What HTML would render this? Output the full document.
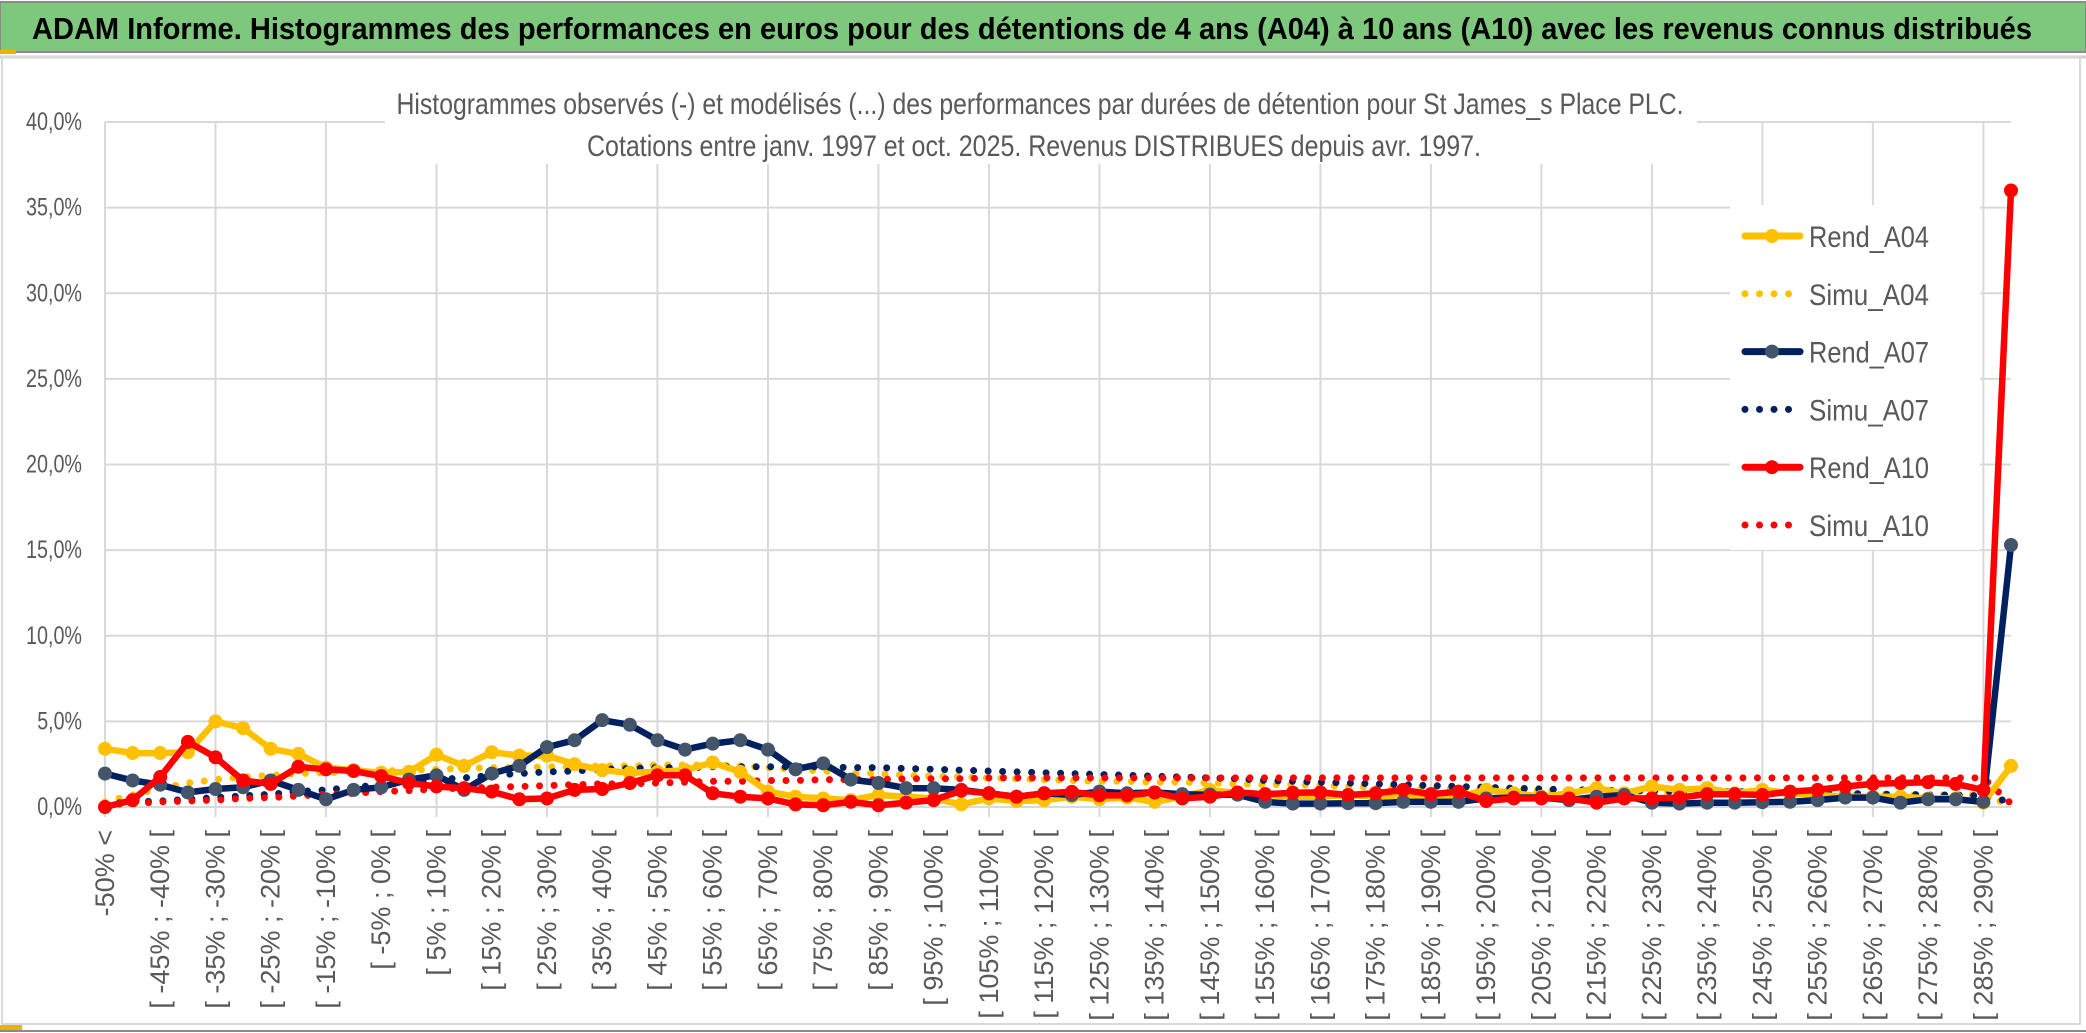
<!DOCTYPE html>
<html><head><meta charset="utf-8"><style>
html,body{margin:0;padding:0;background:#fff;}
svg{display:block;font-family:"Liberation Sans",sans-serif;}
</style></head><body>
<svg id="chart" width="2086" height="1033" viewBox="0 0 2086 1033" xmlns="http://www.w3.org/2000/svg">
<rect x="0" y="0" width="2086" height="1033" fill="#fff"/>
<rect x="0" y="2" width="2086" height="50" fill="#7ec87e" stroke="#8a8a8a" stroke-width="2"/>
<rect x="0" y="50" width="16" height="4" fill="#f0b000"/>
<text x="32" y="39" font-size="31" font-weight="bold" fill="#000" textLength="2000" lengthAdjust="spacingAndGlyphs">ADAM Informe. Histogrammes des performances en euros pour des détentions de 4 ans (A04) à 10 ans (A10) avec les revenus connus distribués</text>
<line x1="0" y1="57" x2="2086" y2="57" stroke="#d0d0d0" stroke-width="3"/>
<rect x="2" y="57" width="2078" height="967" fill="none" stroke="#d9d9d9" stroke-width="2"/>
<line x1="0" y1="1031" x2="2086" y2="1031" stroke="#8a8a8a" stroke-width="2"/>
<rect x="0" y="1025" width="22" height="5" fill="#f0b000"/>
<g id="grid"></g>
<rect x="385" y="84" width="1312" height="80" fill="#fff"/>
<text x="1040" y="114" font-size="30" fill="#595959" text-anchor="middle" textLength="1287" lengthAdjust="spacingAndGlyphs">Histogrammes observés (-) et modélisés (...) des performances par durées de détention pour St James_s Place PLC.</text>
<text x="1034" y="156" font-size="30" fill="#595959" text-anchor="middle" textLength="894" lengthAdjust="spacingAndGlyphs">Cotations entre janv. 1997 et oct. 2025. Revenus DISTRIBUES depuis avr. 1997.</text>
<g id="yaxis"></g>
<g id="xaxis"></g>
<g id="series"></g>
<g id="legend"></g>
</svg>
<script>
const categories = [];
categories.push('-50% <');
for (let k = -50; k < 290; k += 5) categories.push('[ ' + k + '% ; ' + (k + 5) + '% [');
categories.push('> 290%');

const yTicks = [0, 5, 10, 15, 20, 25, 30, 35, 40];
const yTickLabels = ['0,0%', '5,0%', '10,0%', '15,0%', '20,0%', '25,0%', '30,0%', '35,0%', '40,0%'];

const rendA04 = [3.4,3.15,3.15,3.2,5.0,4.6,3.4,3.1,2.3,2.15,2.0,2.05,3.05,2.4,3.2,3.0,3.0,2.5,2.15,2.0,2.05,2.15,2.6,2.05,0.9,0.6,0.5,0.4,0.7,0.6,0.5,0.15,0.5,0.35,0.4,0.6,0.45,0.55,0.3,0.6,1.0,0.8,0.7,0.6,0.6,0.7,0.6,0.7,0.6,0.6,1.0,0.8,0.6,0.8,1.1,0.8,1.2,1.0,1.1,0.8,1.0,0.8,0.7,0.6,0.6,0.6,0.5,0.5,0.25,2.4];
const simuA04 = [0.3,0.7,1.1,1.4,1.6,1.75,1.85,1.95,2.0,2.05,2.1,2.15,2.2,2.25,2.3,2.3,2.35,2.35,2.4,2.4,2.45,2.45,2.45,2.4,2.3,2.2,2.1,2.0,1.95,1.85,1.8,1.75,1.7,1.65,1.6,1.55,1.5,1.5,1.45,1.45,1.4,1.35,1.3,1.3,1.25,1.2,1.15,1.1,1.1,1.05,1.0,1.0,0.95,0.95,0.9,0.9,0.9,0.85,0.85,0.85,0.8,0.8,0.8,0.75,0.75,0.75,0.7,0.7,0.7,0.1];
const rendA07 = [1.95,1.55,1.3,0.85,1.05,1.15,1.55,1.0,0.45,1.0,1.15,1.6,1.85,1.0,1.95,2.4,3.5,3.9,5.07,4.8,3.9,3.35,3.7,3.9,3.35,2.2,2.55,1.6,1.4,1.1,1.1,1.0,0.8,0.6,0.8,0.7,0.9,0.8,0.85,0.75,0.72,0.72,0.3,0.2,0.2,0.22,0.22,0.3,0.3,0.3,0.5,0.55,0.55,0.4,0.6,0.7,0.25,0.2,0.25,0.25,0.28,0.3,0.4,0.55,0.55,0.25,0.45,0.45,0.3,15.3];
const simuA07 = [0.2,0.3,0.35,0.45,0.55,0.65,0.75,0.9,1.0,1.15,1.3,1.45,1.6,1.7,1.85,1.95,2.05,2.1,2.2,2.25,2.3,2.3,2.35,2.35,2.35,2.35,2.35,2.3,2.3,2.25,2.2,2.15,2.1,2.05,2.0,1.95,1.9,1.85,1.8,1.75,1.7,1.65,1.55,1.5,1.45,1.4,1.35,1.3,1.25,1.2,1.15,1.1,1.05,1.0,1.0,0.95,0.95,0.9,0.9,0.9,0.85,0.85,0.8,0.8,0.75,0.75,0.7,0.7,0.65,0.3];
const rendA10 = [0,0.4,1.75,3.8,2.9,1.55,1.35,2.35,2.2,2.1,1.8,1.4,1.2,1.1,0.9,0.45,0.5,1.0,1.05,1.4,1.85,1.85,0.8,0.6,0.5,0.15,0.1,0.3,0.1,0.25,0.4,0.95,0.8,0.6,0.8,0.88,0.68,0.68,0.85,0.5,0.6,0.85,0.75,0.83,0.85,0.7,0.8,1.0,0.75,0.9,0.35,0.5,0.5,0.5,0.25,0.5,0.5,0.55,0.75,0.75,0.7,0.9,1.0,1.2,1.35,1.4,1.45,1.35,1.0,36.0];
const simuA10 = [0.15,0.2,0.3,0.35,0.4,0.5,0.55,0.65,0.75,0.8,0.9,0.95,1.05,1.1,1.15,1.2,1.25,1.3,1.35,1.35,1.4,1.45,1.5,1.5,1.55,1.55,1.6,1.6,1.6,1.65,1.65,1.65,1.7,1.7,1.7,1.7,1.7,1.7,1.7,1.7,1.7,1.7,1.7,1.7,1.7,1.7,1.7,1.7,1.7,1.7,1.7,1.7,1.7,1.7,1.7,1.7,1.7,1.7,1.7,1.7,1.7,1.7,1.7,1.7,1.7,1.7,1.7,1.7,1.7,0.2];

const NS = 'http://www.w3.org/2000/svg';
const firstX = 105, lastX = 2011, y0px = 807, y40px = 122;
const step = (lastX - firstX) / (categories.length - 1);
function xPos(i) { return firstX + i * step; }
function yPos(v) { return y0px - (v / 40) * (y0px - y40px); }
function mk(tag, attrs, parent) {
  const e = document.createElementNS(NS, tag);
  for (const k in attrs) e.setAttribute(k, attrs[k]);
  parent.appendChild(e);
  return e;
}

const grid = document.getElementById('grid');
yTicks.forEach(t => {
  const l = mk('line', {x1: firstX, x2: lastX, y1: yPos(t), y2: yPos(t), stroke: '#d9d9d9', 'stroke-width': 2}, grid);
  
  
});
for (let g = 0; g < categories.length; g += 4) {
  const x = xPos(g);
  const l = mk('line', {x1: x, x2: x, y1: y40px, y2: y0px + 10, stroke: '#d9d9d9', 'stroke-width': 2}, grid);
  
  
}

const yax = document.getElementById('yaxis');
yTicks.forEach((t, k) => {
  const tx = mk('text', {x: 82, y: yPos(t) + 8, 'font-size': 25, fill: '#595959', 'text-anchor': 'end', textLength: yTickLabels[k].length * 11.2, lengthAdjust: 'spacingAndGlyphs'}, yax);
  
  
  tx.textContent = yTickLabels[k];
});

const xax = document.getElementById('xaxis');
categories.forEach((c, i) => {
  if (i % 2 !== 0) return;
  const x = xPos(i) + 9;
  const tx = mk('text', {x: x, y: 830, 'font-size': 27, fill: '#595959', 'text-anchor': 'end', transform: 'rotate(-90 ' + x + ' 830)'}, xax);
  
  
  tx.textContent = c;
});

const seriesG = document.getElementById('series');
function pts(arr) { return arr.map((v, i) => xPos(i).toFixed(1) + ',' + yPos(v).toFixed(1)).join(' '); }
function dotted(arr, color, name) {
  const p = mk('polyline', {points: pts(arr), fill: 'none', stroke: color, 'stroke-width': 7, 'stroke-linecap': 'round', 'stroke-dasharray': '0 14.5'}, seriesG);
  
  
}
function solid(arr, color, mcolor, name) {
  const p = mk('polyline', {points: pts(arr), fill: 'none', stroke: color, 'stroke-width': 6.5, 'stroke-linejoin': 'round'}, seriesG);
  
  
  arr.forEach((v, i) => {
    const c = mk('circle', {cx: xPos(i), cy: yPos(v), r: 7, fill: mcolor}, seriesG);
    
    
  });
}
dotted(simuA04, '#ffc000', 'simu-a04-line');
dotted(simuA07, '#002060', 'simu-a07-line');
dotted(simuA10, '#ff0000', 'simu-a10-line');
solid(rendA04, '#ffc000', '#ffc000', 'rend-a04-line');
solid(rendA07, '#002060', '#44546a', 'rend-a07-line');
solid(rendA10, '#ff0000', '#ff0000', 'rend-a10-line');

const legend = document.getElementById('legend');
const lbg = mk('rect', {x: 1730, y: 205, width: 250, height: 345, fill: '#fff'}, legend);


const legendNames = ['Rend_A04', 'Simu_A04', 'Rend_A07', 'Simu_A07', 'Rend_A10', 'Simu_A10'];
const legendColors = ['#ffc000', '#ffc000', '#002060', '#002060', '#ff0000', '#ff0000'];
const legendMarker = ['#ffc000', null, '#44546a', null, '#ff0000', null];
legendNames.forEach((n, k) => {
  const y = 236 + k * 57.8;
  if (legendMarker[k]) {
    const l = mk('line', {x1: 1745, x2: 1800, y1: y, y2: y, stroke: legendColors[k], 'stroke-width': 7, 'stroke-linecap': 'round'}, legend);
    
    
    const c = mk('circle', {cx: 1772, cy: y, r: 7, fill: legendMarker[k]}, legend);
    
    
  } else {
    const l = mk('line', {x1: 1745, x2: 1802, y1: y, y2: y, stroke: legendColors[k], 'stroke-width': 7, 'stroke-linecap': 'round', 'stroke-dasharray': '0 14.5'}, legend);
    
    
  }
  const t = mk('text', {x: 1809, y: y + 11, 'font-size': 30, fill: '#595959', textLength: 120, lengthAdjust: 'spacingAndGlyphs'}, legend);
  
  
  t.textContent = n;
});
</script>
</body></html>
